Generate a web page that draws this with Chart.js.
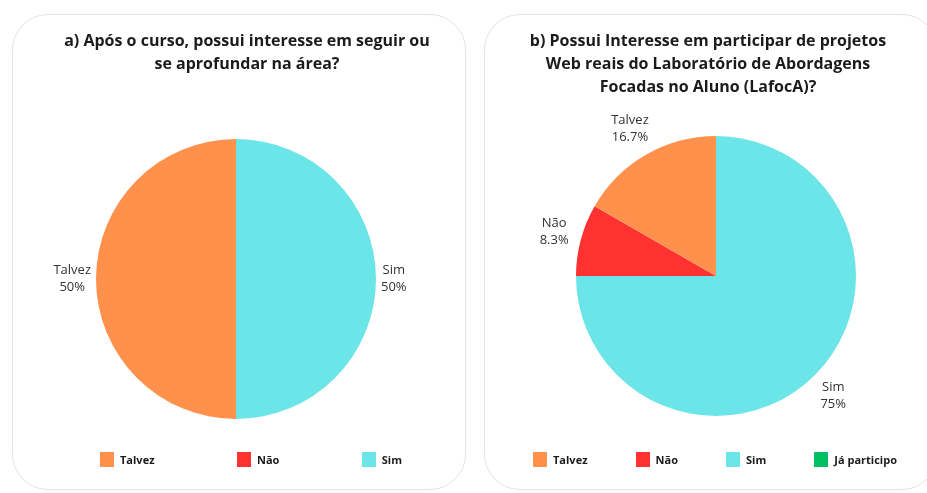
<!DOCTYPE html>
<html>
<head>
<meta charset="utf-8">
<script src="https://cdn.jsdelivr.net/npm/chart.js"></script>
<style>
  body { margin: 0; width: 927px; height: 493px; background: #fff; overflow: hidden; position: relative; font-family: "Open Sans", sans-serif; }
  .card { position: absolute; top: 14px; width: 452px; height: 474px; border: 1.5px solid #e4e4e4; border-radius: 36px; box-sizing: content-box; }
  .card canvas { position: absolute; left: 0; top: 0; }
  .title { position: absolute; top: 29px; width: 420px; text-align: center; font-weight: 700; font-size: 16px; line-height: 23px; color: #1b1b1b; white-space: nowrap; }
  .legend { position: absolute; top: 452px; display: flex; justify-content: space-between; }
  .legend span.item { display: flex; align-items: center; font-weight: 700; font-size: 11px; color: #1b1b1b; }
  .legend i { display: inline-block; width: 14px; height: 15px; margin-right: 6px; }
</style>
</head>
<body>
<div class="card" id="cardA" style="left:12px"><canvas id="pieA" width="454" height="476"></canvas></div>
<div class="card" id="cardB" style="left:484px"><canvas id="pieB" width="454" height="476"></canvas></div>
<div class="title" style="left:37px">a) Após o curso, possui interesse em seguir ou<br>se aprofundar na área?</div>
<div class="title" style="left:498px">b) Possui Interesse em participar de projetos<br>Web reais do Laboratório de Abordagens<br>Focadas no Aluno (LafocA)?</div>
<div class="legend" id="legA" style="left:100px; width:302px"></div>
<div class="legend" id="legB" style="left:533px; width:364px"></div>
<script>
// legend order; slices are drawn in reverse order (clockwise from top)
const categoriesA = ['Talvez', 'Não', 'Sim'];
const valuesA = [50, 0, 50];
const colorsA = ['#FF914D', '#FF3131', '#6CE5E8'];

const categoriesB = ['Talvez', 'Não', 'Sim', 'Já participo'];
const valuesB = [16.7, 8.3, 75, 0];
const colorsB = ['#FF914D', '#FF3131', '#6CE5E8', '#00BF63'];

const outsideLabels = {
  id: 'outsideLabels',
  afterDatasetsDraw(chart, args, opts) {
    const ctx = chart.ctx;
    const meta = chart.getDatasetMeta(0);
    const ds = chart.data.datasets[0];
    const gap = opts.gap || 8;
    ctx.save();
    ctx.font = '13px "Open Sans"';
    ctx.fillStyle = '#333';
    ctx.textAlign = 'center';
    ctx.textBaseline = 'middle';
    const lh = 17;
    meta.data.forEach((arc, i) => {
      const v = ds.data[i];
      if (!v) return;
      const p = arc.getProps(['x', 'y', 'startAngle', 'endAngle', 'outerRadius'], true);
      const a = (p.startAngle + p.endAngle) / 2;
      const dx = Math.cos(a), dy = Math.sin(a);
      const lines = [chart.data.labels[i], v + '%'];
      const w = Math.max(...lines.map(t => ctx.measureText(t).width));
      const h = lh * lines.length;
      const ax = p.x + dx * (p.outerRadius + gap);
      const ay = p.y + dy * (p.outerRadius + gap);
      const cx = ax + dx * w / 2;
      const cy = ay + dy * h / 2;
      lines.forEach((t, k) => ctx.fillText(t, cx, cy - h / 2 + lh / 2 + k * lh));
    });
    ctx.restore();
  }
};

function makePie(id, legId, categories, values, colors, pad, gap) {
  const chart = new Chart(document.getElementById(id), {
    type: 'pie',
    data: {
      labels: categories.slice().reverse(),
      datasets: [{
        data: values.slice().reverse(),
        backgroundColor: colors.slice().reverse(),
        borderWidth: 0
      }]
    },
    options: {
      responsive: false,
      animation: false,
      layout: { padding: pad },
      plugins: {
        legend: { display: false },
        title: { display: false },
        tooltip: { enabled: false },
        outsideLabels: { gap: gap }
      }
    },
    plugins: [outsideLabels]
  });
  const leg = document.getElementById(legId);
  categories.forEach((c, i) => {
    const item = document.createElement('span');
    item.className = 'item';
    item.innerHTML = '<i style="background:' + colors[i] + '"></i>' + c;
    leg.appendChild(item);
  });
  return chart;
}

makePie('pieA', 'legA', categoriesA, valuesA, colorsA, { left: 83, right: 91, top: 123, bottom: 71 }, 5);
makePie('pieB', 'legB', categoriesB, valuesB, colorsB, { left: 91, right: 83, top: 121, bottom: 75 }, 13);
</script>
</body>
</html>
